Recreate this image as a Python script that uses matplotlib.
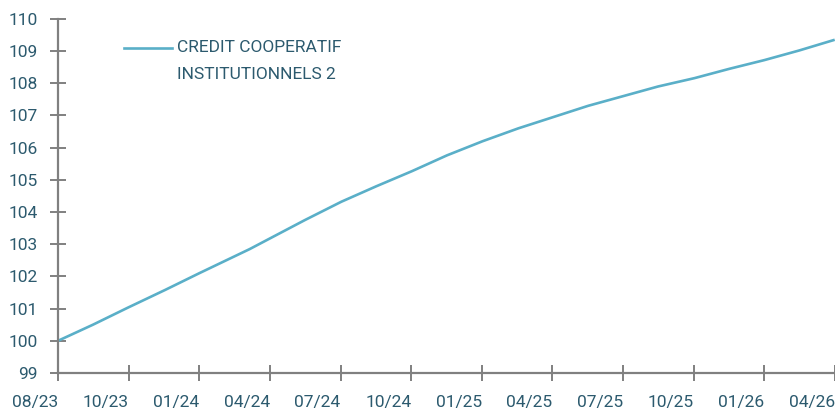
import matplotlib
matplotlib.use("Agg")
import matplotlib.pyplot as plt
import pandas as pd

# ---------------------------------------------------------------------------
# Data
# ---------------------------------------------------------------------------
SERIES_LINES = ["CREDIT COOPERATIF", "INSTITUTIONNELS 2"]

DATES = [
    "2023-08-01", "2023-09-15", "2023-10-30", "2023-12-17", "2024-01-30",
    "2024-04-04", "2024-04-30", "2024-06-14", "2024-07-31", "2024-09-14",
    "2024-10-30", "2024-12-14", "2025-01-29", "2025-03-16", "2025-04-30",
    "2025-06-14", "2025-07-29", "2025-09-12", "2025-10-29", "2025-12-13",
    "2026-01-27", "2026-03-13", "2026-04-26",
]
VALUES = [
    100.00, 100.50, 101.03, 101.58, 102.10,
    102.85, 103.18, 103.75, 104.32, 104.80,
    105.27, 105.76, 106.20, 106.60, 106.95,
    107.30, 107.60, 107.90, 108.16, 108.45,
    108.72, 109.02, 109.34,
]

TICK_DATES = [
    "2023-08-01", "2023-10-31", "2024-01-30", "2024-04-30", "2024-07-30",
    "2024-10-29", "2025-01-28", "2025-04-29", "2025-07-29", "2025-10-28",
    "2026-01-27", "2026-04-28",
]
TICK_LABELS = ["08/23", "10/23", "01/24", "04/24", "07/24", "10/24",
               "01/25", "04/25", "07/25", "10/25", "01/26", "04/26"]
Y_TICKS = list(range(99, 111))

# ---------------------------------------------------------------------------
# Style
# ---------------------------------------------------------------------------
plt.rcParams["font.family"] = ["Roboto", "DejaVu Sans"]

LINE_COLOR = "#5aafc8"
TEXT_COLOR = "#2c5a6e"
AXIS_COLOR = "#808080"
FS = 12.5

fig = plt.figure(figsize=(8.35, 4.11), dpi=100)
ax = fig.add_axes([0.0695, 0.0925, 0.9305, 0.8615])

x = pd.to_datetime(DATES)
ax.plot(x, VALUES, color=LINE_COLOR, lw=1.9)

ticks = pd.to_datetime(TICK_DATES)
ax.set_xlim(ticks[0], ticks[-1])
ax.set_ylim(99, 110)
ax.set_xticks(ticks)
ax.set_xticklabels(TICK_LABELS, ha="right")
ax.set_yticks(Y_TICKS)

for side in ("top", "right"):
    ax.spines[side].set_visible(False)
for side in ("left", "bottom"):
    ax.spines[side].set_color(AXIS_COLOR)
    ax.spines[side].set_linewidth(1.6)
ax.tick_params(axis="both", direction="inout", length=11, width=1.4,
               color=AXIS_COLOR, labelcolor=TEXT_COLOR, labelsize=FS)
ax.tick_params(axis="x", pad=10)
ax.tick_params(axis="y", pad=9)

# legend: sample line + two-line label, first line level with the sample
ax.plot([0.085, 0.147], [0.918, 0.918], color=LINE_COLOR, lw=1.9,
        transform=ax.transAxes, clip_on=False)
ax.text(0.153, 0.918, SERIES_LINES[0], color=TEXT_COLOR, fontsize=FS,
        ha="left", va="center", transform=ax.transAxes)
ax.text(0.153, 0.842, SERIES_LINES[1], color=TEXT_COLOR, fontsize=FS,
        ha="left", va="center", transform=ax.transAxes)

fig.savefig("out.png", dpi=100)
